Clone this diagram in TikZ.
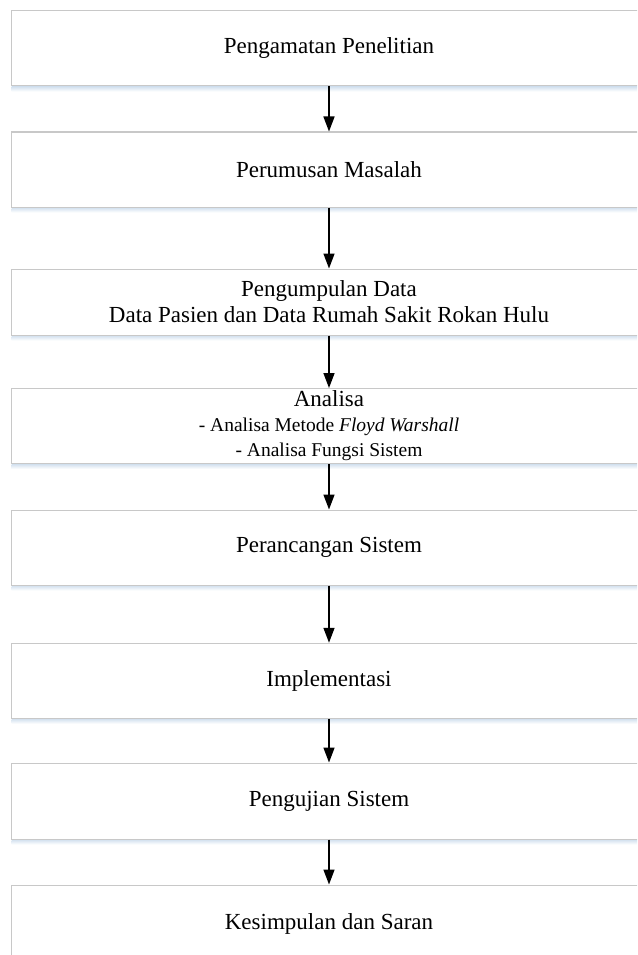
\documentclass[tikz,border=0pt]{standalone}
\usepackage{fontspec}
\setmainfont{Liberation Serif}
\usetikzlibrary{arrows.meta}
\definecolor{boxline}{HTML}{C8C8C8}
\definecolor{shadowc}{HTML}{D6E3F0}
\begin{document}
\begin{tikzpicture}[x=1pt,y=1pt,
  stepbox/.style={draw=boxline, line width=1pt, fill=white, rectangle,
    minimum width=636pt, inner sep=0pt, align=center,
    font=\fontsize{23}{26}\selectfont},
  flowarrow/.style={draw=black, line width=1.5pt,
    -{Triangle[length=15pt,width=11pt]}},
  boxshadow/.style={top color=shadowc, bottom color=white, draw=none}]
\useasboundingbox (0,0) rectangle (637,-955);
\clip (0,0) rectangle (637,-955);
\fill[white] (0,0) rectangle (637,-955);

\node[stepbox, minimum height=75pt] (b1) at (329,-48.5) {Pengamatan Penelitian};
\node[stepbox, minimum height=75pt] (b2) at (329,-169.5) {Perumusan Masalah};
\node[stepbox, minimum height=66pt] (b3) at (329,-302) {Pengumpulan Data\\Data Pasien dan Data Rumah Sakit Rokan Hulu};
\node[stepbox, minimum height=75pt] (b4) at (329,-426) {Analisa\\[-1pt]
  {\fontsize{19.5}{23}\selectfont - Analisa Metode \textit{Floyd Warshall}}\\[-1pt]
  {\fontsize{19.5}{23}\selectfont - Analisa Fungsi Sistem}};
\node[stepbox, minimum height=75pt] (b5) at (329,-547.5) {Perancangan Sistem};
\node[stepbox, minimum height=75pt] (b6) at (329,-680.75) {Implementasi};
\node[stepbox, minimum height=76pt] (b7) at (329,-801) {Pengujian Sistem};
\node[stepbox, minimum height=77pt] (b8) at (329,-923.5) {Kesimpulan dan Saran};

\foreach \b in {b1,b2,b3,b4,b5,b6,b7}{
  \shade[boxshadow] ([xshift=1pt,yshift=-0.5pt]\b.south west) rectangle ([yshift=-5pt]\b.south east);
}

\draw[flowarrow] (b1.south) -- (b2.north);
\draw[flowarrow] (b2.south) -- (b3.north);
\draw[flowarrow] (b3.south) -- (b4.north);
\draw[flowarrow] (b4.south) -- (b5.north);
\draw[flowarrow] (b5.south) -- (b6.north);
\draw[flowarrow] (b6.south) -- (b7.north);
\draw[flowarrow] (b7.south) -- (b8.north);
\end{tikzpicture}
\end{document}
